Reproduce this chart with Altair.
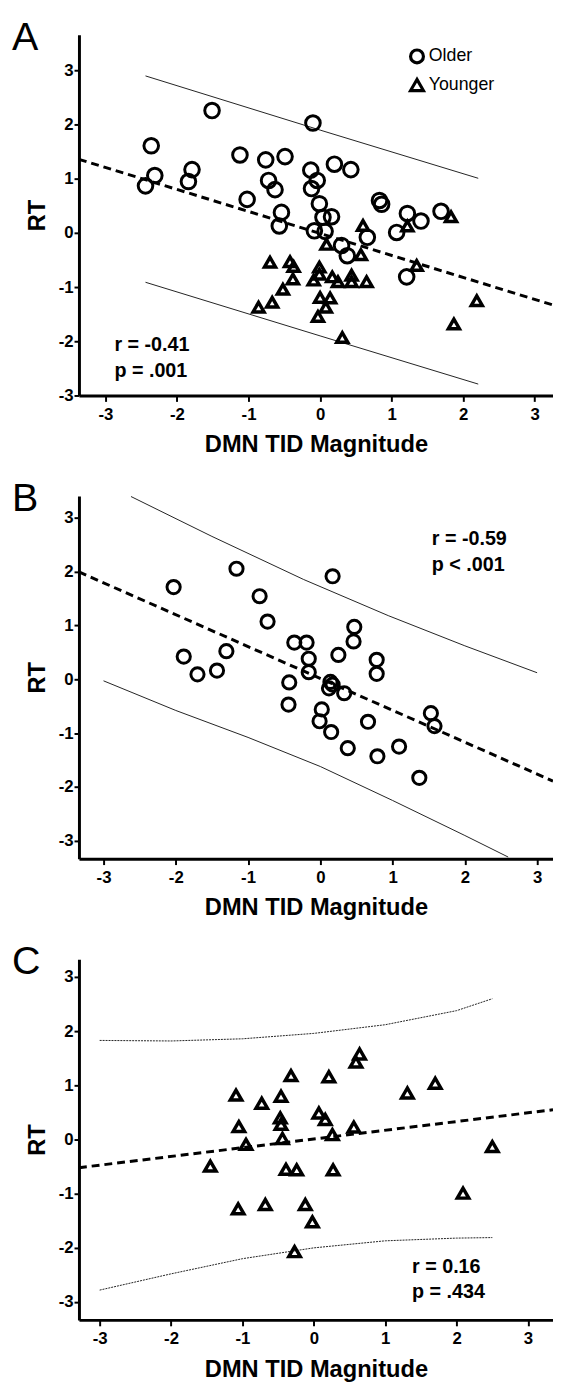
import altair as alt
import pandas as pd

FONT = "Liberation Sans"
TICKS = [-3, -2, -1, 0, 1, 2, 3]
GROUPS = ["Older", "Younger"]
SHAPES = ["circle", "triangle-up"]
X_TITLE = "DMN TID Magnitude"
Y_TITLE = "RT"

# ---------------- Panel A (all participants) ----------------
a_old_x = [-1.51, -0.1, -2.36, -2.31, -2.44, -1.79, -1.84, -1.12, -0.76, -0.49, -0.72, -0.63,
           -1.02, -0.54, -0.57, -0.13, -0.04, -0.12, 0.2, 0.43, -0.01, 0.04, 0.16, -0.08, 0.07,
           0.83, 0.86, 1.22, 1.41, 1.69, 1.07, 0.66, 0.3, 0.38, 1.21]
a_old_y = [2.26, 2.03, 1.61, 1.06, 0.87, 1.17, 0.95, 1.44, 1.35, 1.41, 0.97, 0.8,
           0.62, 0.38, 0.13, 1.16, 0.97, 0.82, 1.27, 1.17, 0.54, 0.29, 0.3, 0.04, 0.03,
           0.6, 0.53, 0.36, 0.22, 0.4, 0.01, -0.08, -0.23, -0.42, -0.81]
a_young_x = [-0.86, -0.67, -0.52, -0.7, -0.42, -0.37, -0.38, -0.01, -0.01, -0.09, 0.17, 0.25,
             0.44, 0.44, 0.65, 0.09, 0.6, 0.57, 0.0, 0.14, 0.08, -0.03, 0.31, 1.35, 1.87,
             2.19, 1.83, 1.22]
a_young_y = [-1.37, -1.28, -1.04, -0.54, -0.53, -0.62, -0.85, -0.63, -0.76, -0.87, -0.81, -0.9,
             -0.78, -0.9, -0.9, -0.21, 0.14, -0.4, -1.19, -1.2, -1.37, -1.54, -1.93, -0.6, -1.68,
             -1.25, 0.3, 0.13]
a_fit_x = [-3.37, 3.255]
a_fit_y = [1.36, -1.33]
a_up_x = [-2.44, 0.0, 2.21]
a_up_y = [2.9, 1.9, 1.01]
a_lo_x = [-2.44, 0.0, 2.21]
a_lo_y = [-0.91, -1.9, -2.79]
a_stats = ["r = -0.41", "p = .001"]

# ---------------- Panel B (older) ----------------
b_x = [-2.03, -1.16, 0.17, -0.84, -0.73, -0.36, -0.19, -0.16, -0.16, 0.47, 0.46, 0.25,
       0.78, 0.78, -1.89, -1.7, -1.43, -1.3, -0.43, -0.44, 0.14, 0.12, 0.33, 0.02,
       -0.01, 0.15, 0.38, 0.66, 0.79, 1.09, 1.37, 1.53, 1.58, 0.17]
b_y = [1.71, 2.05, 1.91, 1.54, 1.07, 0.68, 0.68, 0.38, 0.13, 0.97, 0.7, 0.45,
       0.36, 0.1, 0.42, 0.09, 0.16, 0.52, -0.06, -0.47, -0.05, -0.17, -0.26, -0.56,
       -0.78, -0.98, -1.28, -0.79, -1.43, -1.25, -1.83, -0.63, -0.87, -0.1]
b_fit_x = [-3.34, 3.22]
b_fit_y = [1.99, -1.89]
b_up_x = [-2.62, -1.5, -0.23, 0.94, 2.0, 3.0]
b_up_y = [3.39, 2.65, 1.85, 1.18, 0.62, 0.12]
b_lo_x = [-3.0, -2.0, -1.0, 0.0, 1.0, 2.0, 2.6]
b_lo_y = [-0.03, -0.58, -1.08, -1.62, -2.25, -2.9, -3.3]
b_stats = ["r = -0.59", "p < .001"]

# ---------------- Panel C (younger) ----------------
c_x = [-1.09, -0.73, -0.46, -0.32, 0.21, 0.64, 0.59, 1.31, 1.7, -1.05, -0.95, -0.47,
       -0.46, -0.44, 0.07, 0.16, 0.26, 0.56, 2.5, -1.45, -0.39, -0.24, 0.27, -1.06,
       -0.68, -0.12, -0.02, -0.27, 2.09]
c_y = [0.82, 0.67, 0.8, 1.18, 1.16, 1.58, 1.43, 0.86, 1.04, 0.24, -0.09, 0.4,
       0.28, 0.02, 0.49, 0.37, 0.09, 0.23, -0.13, -0.49, -0.55, -0.56, -0.56, -1.28,
       -1.2, -1.2, -1.52, -2.07, -0.99]
c_fit_x = [-3.29, 3.35]
c_fit_y = [-0.52, 0.55]
c_up_x = [-3.0, -2.0, -1.0, 0.0, 1.0, 2.0, 2.5]
c_up_y = [1.83, 1.82, 1.86, 1.96, 2.12, 2.38, 2.6]
c_lo_x = [-3.0, -2.0, -1.0, 0.0, 1.0, 2.0, 2.5]
c_lo_y = [-2.78, -2.48, -2.2, -2.0, -1.87, -1.82, -1.81]
c_stats = ["r = 0.16", "p = .434"]

LABEL_EXPR = "datum.value < 0 ? '-' + abs(datum.value) : '' + datum.value"
ONE = pd.DataFrame({"k": [0]})


def panel(letter, xdom, ydom, height, point_sets, fit_x, fit_y, up, lo, band_dash,
          stats, stats_x, stats_y, legend):
    xs = alt.Scale(domain=xdom, nice=False, zero=False)
    ys = alt.Scale(domain=ydom, nice=False, zero=False)
    xa = alt.Axis(values=TICKS, title=X_TITLE, labelExpr=LABEL_EXPR, grid=False, tickSize=6,
                  labelPadding=5, titlePadding=11, labelFlush=False, labelOverlap=False)
    ya = alt.Axis(values=TICKS, title=Y_TITLE, labelExpr=LABEL_EXPR, grid=False, tickSize=5,
                  labelPadding=1, titlePadding=9, labelFlush=False, labelOverlap=False)

    def X():
        return alt.X("x:Q", scale=xs, axis=xa)

    def Y():
        return alt.Y("y:Q", scale=ys, axis=ya)

    band_df = pd.concat([
        pd.DataFrame({"x": up[0], "y": up[1], "side": "upper"}),
        pd.DataFrame({"x": lo[0], "y": lo[1], "side": "lower"}),
    ])
    line_kw = dict(color="#222222", strokeWidth=1, clip=True)
    if band_dash:
        line_kw["strokeDash"] = band_dash
    layers = [
        alt.Chart(band_df).mark_line(**line_kw).encode(X(), Y(), detail="side:N"),
        alt.Chart(pd.DataFrame({"x": fit_x, "y": fit_y})).mark_line(
            color="black", strokeWidth=3, strokeDash=[8, 5], clip=True).encode(X(), Y()),
    ]
    for xs_, ys_, grp, size, sw in point_sets:
        df = pd.DataFrame({"x": xs_, "y": ys_, "group": grp})
        layers.append(
            alt.Chart(df).mark_point(filled=False, color="black", opacity=1, size=size,
                                     strokeWidth=sw).encode(
                X(), Y(),
                shape=alt.Shape("group:N", scale=alt.Scale(domain=GROUPS, range=SHAPES),
                                legend=legend))
        )
    layers.append(
        alt.Chart(ONE).mark_text(text=stats, align="left", baseline="alphabetic", font=FONT,
                                 fontSize=20, fontWeight="bold", color="black",
                                 lineHeight=26).encode(x=alt.value(stats_x), y=alt.value(stats_y))
    )
    layers.append(
        alt.Chart(ONE).mark_text(text=letter, align="left", baseline="alphabetic", font=FONT,
                                 fontSize=40, fontWeight="normal", color="black").encode(
            x=alt.value(-68), y=alt.value(15))
    )
    return alt.layer(*layers).properties(width=481, height=height)


legend_a = alt.Legend(orient="none", legendX=334, legendY=13, title=None, labelFont=FONT,
                      labelFontSize=18, labelColor="black", symbolStrokeWidth=3.2,
                      symbolSize=170, symbolStrokeColor="black", rowPadding=3,
                      labelOffset=3, padding=0)

pA = panel("A", [-3.37, 3.255], [-3, 3.66], 366,
           [(a_old_x, a_old_y, "Older", 220, 3.0), (a_young_x, a_young_y, "Younger", 125, 3.5)],
           a_fit_x, a_fit_y, (a_up_x, a_up_y), (a_lo_x, a_lo_y), None,
           a_stats, 36, 321, legend_a)
pB = panel("B", [-3.34, 3.22], [-3.33, 3.4], 368,
           [(b_x, b_y, "Older", 180, 3.0)],
           b_fit_x, b_fit_y, (b_up_x, b_up_y), (b_lo_x, b_lo_y), None,
           b_stats, 358, 50, None)
pC = panel("C", [-3.29, 3.35], [-3.33, 3.33], 366,
           [(c_x, c_y, "Younger", 135, 3.5)],
           c_fit_x, c_fit_y, (c_up_x, c_up_y), (c_lo_x, c_lo_y), [2, 1],
           c_stats, 338, 318, None)

chart = alt.vconcat(pA, pB, pC, spacing=102, bounds="flush").resolve_scale(
    x="independent", y="independent", shape="independent"
).resolve_legend(shape="independent").properties(
    padding={"left": 4, "top": 0, "right": 0, "bottom": 0}
).configure_view(strokeWidth=0).configure_axis(
    domainColor="black", domainWidth=3, tickColor="black", tickWidth=2,
    labelFont=FONT, labelFontSize=17, labelFontWeight="bold", labelColor="black",
    titleFont=FONT, titleFontSize=24, titleFontWeight="bold", titleColor="black"
)

chart.save("out.html", embed_options={"renderer": "svg", "actions": False})
